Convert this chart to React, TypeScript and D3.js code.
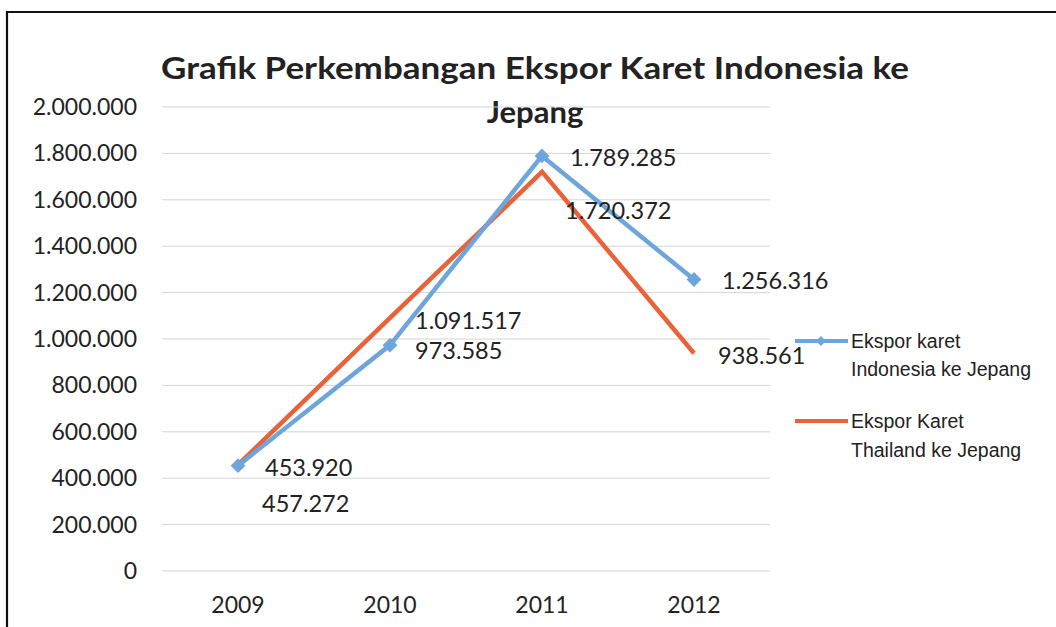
import React from "react";
import * as d3 from "d3";

const years = ["2009", "2010", "2011", "2012"];
const indonesia = [453920, 973585, 1789285, 1256316];
const thailand = [457272, 1091517, 1720372, 938561];
const yTicks = [0, 200000, 400000, 600000, 800000, 1000000, 1200000, 1400000, 1600000, 1800000, 2000000];
const titleLines = ["Grafik Perkembangan Ekspor Karet Indonesia ke", "Jepang"];
const legendIndonesia = ["Ekspor karet", "Indonesia ke Jepang"];
const legendThailand = ["Ekspor Karet", "Thailand ke Jepang"];

const W = 1056;
const H = 627;
const BLUE = "#6ea6dc";
const ORANGE = "#e8623a";
const FONT = "Lato, 'Open Sans', sans-serif";
const LEGEND_FONT = "'Liberation Sans', Arial, sans-serif";

const loc = d3.formatLocale({ decimal: ",", thousands: ".", grouping: [3], currency: ["", ""] });
const fmt = loc.format(",d");

export default function App() {
  const x = d3.scaleBand<string>().domain(years).range([162, 770]);
  const y = d3.scaleLinear().domain([0, 2000000]).range([571, 107]);
  const cx = (d: string) => (x(d) as number) + x.bandwidth() / 2;
  const line = d3
    .line<number>()
    .x((_, i) => cx(years[i]))
    .y((v) => y(v));
  const diamond = d3.symbol().type(d3.symbolSquare).size(110)();
  const legendDiamond = d3.symbol().type(d3.symbolSquare).size(50)();

  const blueLabelOffsets = [
    [27, 10],
    [25, 14],
    [28, 10],
    [28, 9],
  ];
  const orangeLabelOffsets = [
    [24, 47],
    [25, 11],
    [23, 47],
    [24, 11],
  ];

  return (
    <svg width={W} height={H} style={{ position: "absolute", left: 0, top: 0, background: "#fff" }}>
      <rect x={0} y={0} width={W} height={H} fill="#fff" />
      {/* chart frame */}
      <path d={`M7,${H} L7,12 L${W},12`} fill="none" stroke="#111" strokeWidth={2.2} />

      {/* title */}
      {titleLines.map((t, i) => (
        <text
          key={t}
          x={535}
          y={79 + i * 44}
          textAnchor="middle"
          fontFamily={FONT}
          fontWeight="bold"
          fontSize={31}
          fill="#222"
          {...(i === 0 ? { textLength: 748, lengthAdjust: "spacingAndGlyphs" } : {})}
        >
          {t}
        </text>
      ))}

      {/* gridlines */}
      {yTicks.map((t) => (
        <line key={t} x1={162} x2={770} y1={y(t)} y2={y(t)} stroke="#d4d4d4" strokeWidth={1} />
      ))}

      {/* y labels */}
      {yTicks.map((t) => (
        <text key={"l" + t} x={137} y={y(t) + 8} textAnchor="end" fontFamily={FONT} fontSize={23} fill="#222">
          {fmt(t)}
        </text>
      ))}

      {/* x labels */}
      {years.map((yr) => (
        <text key={yr} x={cx(yr)} y={613} textAnchor="middle" fontFamily={FONT} fontSize={23} fill="#222">
          {yr}
        </text>
      ))}

      {/* series */}
      <path d={line(thailand) as string} fill="none" stroke={ORANGE} strokeWidth={4.5} strokeLinejoin="miter" />
      <path d={line(indonesia) as string} fill="none" stroke={BLUE} strokeWidth={4.5} strokeLinejoin="round" />
      {indonesia.map((v, i) => (
        <path
          key={"m" + i}
          d={diamond as string}
          transform={`translate(${cx(years[i])},${y(v)}) rotate(45)`}
          fill={BLUE}
        />
      ))}

      {/* data labels */}
      {indonesia.map((v, i) => (
        <text
          key={"bl" + i}
          x={cx(years[i]) + blueLabelOffsets[i][0]}
          y={y(v) + blueLabelOffsets[i][1]}
          fontFamily={FONT}
          fontSize={23.5}
          fill="#222"
        >
          {fmt(v)}
        </text>
      ))}
      {thailand.map((v, i) => (
        <text
          key={"ol" + i}
          x={cx(years[i]) + orangeLabelOffsets[i][0]}
          y={y(v) + orangeLabelOffsets[i][1]}
          fontFamily={FONT}
          fontSize={23.5}
          fill="#222"
        >
          {fmt(v)}
        </text>
      ))}

      {/* legend */}
      <line x1={795} x2={848} y1={341} y2={341} stroke={BLUE} strokeWidth={4} />
      <path d={legendDiamond as string} transform="translate(821,341) rotate(45)" fill={BLUE} />
      {legendIndonesia.map((t, i) => (
        <text key={t} x={851} y={348 + i * 28} fontFamily={LEGEND_FONT} fontSize={19.5} fill="#222">
          {t}
        </text>
      ))}
      <line x1={795} x2={848} y1={421} y2={421} stroke={ORANGE} strokeWidth={4} />
      {legendThailand.map((t, i) => (
        <text key={t} x={851} y={428 + i * 29} fontFamily={LEGEND_FONT} fontSize={19.5} fill="#222">
          {t}
        </text>
      ))}
    </svg>
  );
}
